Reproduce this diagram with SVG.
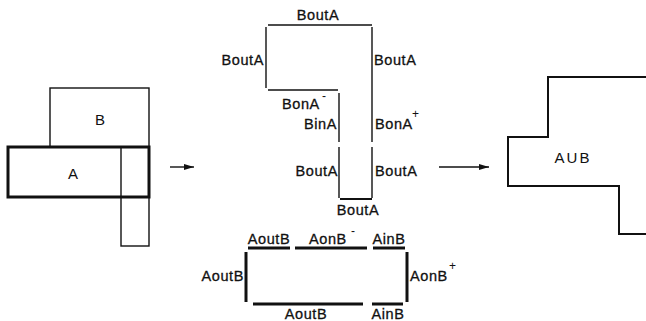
<svg xmlns="http://www.w3.org/2000/svg" width="646" height="321" viewBox="0 0 646 321">
<style>
  text { font-family: "Liberation Sans", Arial, sans-serif; fill: #111; }
  .lbl { font-size: 14.5px; letter-spacing: 0.6px; stroke: #111; stroke-width: 0.3px; }
  .sup { font-size: 12px; letter-spacing: 0; }
  .big { font-size: 15px; }
  .thin { fill: none; stroke: #111; stroke-width: 1.4; }
  .med { fill: none; stroke: #111; stroke-width: 2; }
  .thick { fill: none; stroke: #111; stroke-width: 3; }
</style>
<defs>
  <marker id="ah" viewBox="0 0 10 6" refX="10" refY="3" markerWidth="10" markerHeight="6" markerUnits="userSpaceOnUse" orient="auto">
    <path d="M0,0 L10,3 L0,6 z" fill="#111"/>
  </marker>
</defs>
<rect width="646" height="321" fill="#fff"/>

<g id="fig-AB">
  <rect class="thin" x="50" y="88" width="99" height="59"/>
  <rect class="thin" x="121" y="197" width="28" height="49"/>
  <line class="thin" x1="121" y1="147" x2="121" y2="197"/>
  <rect class="thick" x="8" y="147" width="141" height="50"/>
  <text class="big" x="100" y="125" text-anchor="middle">B</text>
  <text class="big" x="73" y="179" text-anchor="middle">A</text>
</g>

<g id="fig-B-classified">
  <line class="thin" x1="268" y1="25" x2="372" y2="25"/>
  <line class="thin" x1="266" y1="27" x2="266" y2="88"/>
  <line class="thin" x1="268" y1="90" x2="338" y2="90"/>
  <line class="thin" x1="372" y1="27" x2="372" y2="142"/>
  <line class="thin" x1="372" y1="147" x2="372" y2="198"/>
  <line class="thin" x1="339" y1="93" x2="339" y2="142"/>
  <line class="thin" x1="339" y1="147" x2="339" y2="198"/>
  <line class="med" x1="340" y1="199" x2="372" y2="199"/>
  <text class="lbl" x="318" y="20" text-anchor="middle">BoutA</text>
  <text class="lbl" x="264" y="65" text-anchor="end">BoutA</text>
  <text class="lbl" x="374" y="65">BoutA</text>
  <text class="lbl" x="282" y="109">BonA</text>
  <text class="sup" x="322" y="100">-</text>
  <text class="lbl" x="337" y="129" text-anchor="end">BinA</text>
  <text class="lbl" x="375" y="129">BonA</text>
  <text class="sup" x="412" y="118">+</text>
  <text class="lbl" x="338" y="176" text-anchor="end">BoutA</text>
  <text class="lbl" x="375" y="176">BoutA</text>
  <text class="lbl" x="358" y="215" text-anchor="middle">BoutA</text>
</g>

<g id="fig-A-classified">
  <line class="thick" x1="248" y1="248" x2="290" y2="248"/>
  <line class="thick" x1="295" y1="248" x2="367" y2="248"/>
  <line class="thick" x1="373" y1="248" x2="405" y2="248"/>
  <line class="thick" x1="246" y1="252" x2="246" y2="302"/>
  <line class="thick" x1="407" y1="252" x2="407" y2="302"/>
  <line class="thick" x1="253" y1="304" x2="363" y2="304"/>
  <line class="thick" x1="372" y1="304" x2="403" y2="304"/>
  <text class="lbl" x="269" y="244" text-anchor="middle">AoutB</text>
  <text class="lbl" x="309" y="244">AonB</text>
  <text class="sup" x="351" y="235">-</text>
  <text class="lbl" x="389" y="244" text-anchor="middle">AinB</text>
  <text class="lbl" x="244" y="281" text-anchor="end">AoutB</text>
  <text class="lbl" x="410" y="281">AonB</text>
  <text class="sup" x="449" y="270">+</text>
  <text class="lbl" x="306" y="319" text-anchor="middle">AoutB</text>
  <text class="lbl" x="388" y="319" text-anchor="middle">AinB</text>
</g>

<g id="fig-union">
  <path class="med" d="M646,77 H548 V137 H508 V186 H619 V234 H646"/>
  <text class="big" x="573" y="163" text-anchor="middle" letter-spacing="2">AUB</text>
</g>

<g id="connectors">
  <line class="thin" x1="170" y1="167" x2="194" y2="167" marker-end="url(#ah)"/>
  <line class="thin" x1="439" y1="167" x2="489" y2="167" marker-end="url(#ah)"/>
</g>
</svg>
